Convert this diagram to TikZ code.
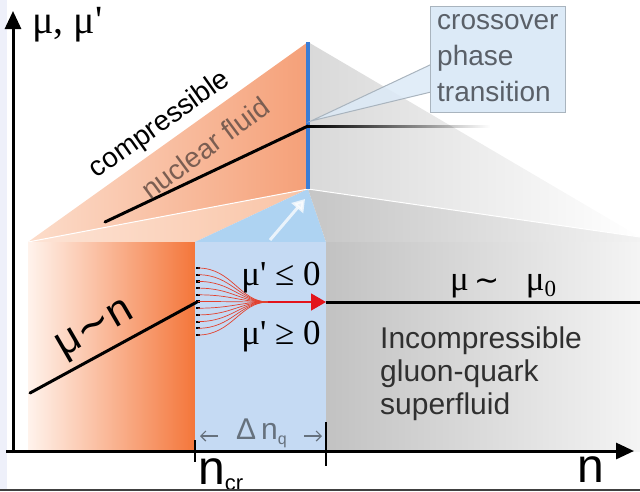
\documentclass[tikz,border=0pt]{standalone}
\usepackage{fontspec}
\setmainfont{Liberation Serif}
\setsansfont{Liberation Sans}
\newfontfamily\djv{DejaVu Sans}
\usetikzlibrary{arrows.meta,fadings}
\definecolor{orUL}{HTML}{FCDDCB}
\definecolor{orUR}{HTML}{F5A078}
\definecolor{peachL}{HTML}{FDE4D6}
\definecolor{peachR}{HTML}{F9C4A6}
\definecolor{orL}{HTML}{FFF3EC}
\definecolor{orM}{HTML}{FBC19F}
\definecolor{orR}{HTML}{F4763A}
\definecolor{bluetop}{HTML}{AED3F2}
\definecolor{blueblk}{HTML}{C5DAF3}
\definecolor{blueline}{HTML}{3A7DD6}
\definecolor{grU}{HTML}{D9D9D9}
\definecolor{grT}{HTML}{C6C6C6}
\definecolor{grT2}{HTML}{F2F2F2}
\definecolor{grL}{HTML}{C2C2C2}
\definecolor{grR}{HTML}{F4F4F4}
\definecolor{calfill}{HTML}{DCEAF7}
\definecolor{caledge}{HTML}{A9B4BE}
\definecolor{caltext}{HTML}{5A6068}
\definecolor{nuc}{HTML}{7B5E52}
\definecolor{fanred}{HTML}{E2412E}
\definecolor{arrred}{HTML}{E3141B}
\definecolor{dngray}{HTML}{66717D}
\definecolor{txtdark}{HTML}{303030}
\definecolor{leftstrip}{HTML}{EEF0FA}
\definecolor{border}{HTML}{404040}
\tikzset{
  axisline/.style={line width=3pt, -{Triangle[length=18pt,width=16pt]}},
  blackline/.style={line width=3pt, line cap=round},
  sanslbl/.style={font=\sffamily\fontsize{28}{28}\selectfont},
  incolbl/.style={font=\sffamily\fontsize{30}{30}\selectfont, text=txtdark, anchor=base west, inner sep=0pt},
  seriflbl/.style={font=\fontsize{35}{35}\selectfont},
  fanline/.style={fanred, line width=0.7pt},
  dimarrow/.style={dngray, line width=1.2pt, -{Straight Barb[length=5pt,width=10pt]}},
  tickline/.style={line width=2.5pt}
}
\begin{document}
\begin{tikzpicture}[x=1pt,y=-1pt]
\useasboundingbox (0,0) rectangle (640,491);
\fill[leftstrip] (0,0) rectangle (7,491);
% key points
\coordinate (A) at (28,242);
\coordinate (B) at (195,242);
\coordinate (C) at (326,242);
\coordinate (D) at (640,242);
\coordinate (P) at (308,189);
\coordinate (T) at (308,42);
\coordinate (G) at (640,237);
% upper perspective
\shade[left color=orUL, right color=orUR] (A) -- (T) -- (P) -- cycle;
\shade[left color=peachL, right color=peachR] (A) -- (P) -- (B) -- cycle;
\fill[bluetop] (B) -- (P) -- (C) -- cycle;
\shade[left color=grU, right color=white] (T) -- (G) -- (P) -- cycle;
\shade[left color=grT, right color=grT2] (P) -- (G) -- (D) -- (C) -- cycle;
\draw[white, line width=1pt] (A) -- (P) -- (G);
% blocks
\shade[left color=orL, middle color=orM, right color=orR] (28,242) rectangle (195,451);
\fill[blueblk] (195,242) rectangle (326,451);
\shade[left color=grL, right color=grR] (326,242) rectangle (640,451);
% blue transition line
\draw[blueline, line width=3.5pt] (T) -- (P);
% white arrow in blue face
\coordinate (wa1) at (270,240);
\coordinate (wa2) at (305,199);
\draw[white, opacity=0.75, line width=3pt, -{Triangle[length=12pt,width=15pt]}] (wa1) -- (wa2);
% upper black line
\coordinate (u1) at (105,222);
\coordinate (u2) at (308,126);
\draw[blackline] (u1) -- (u2);
\path[fill=black, path fading=east] (308,124.5) rectangle (490,127.5);
% callout
\coordinate (ctip) at (311,121);
\coordinate (cw1) at (432,64);
\coordinate (cw2) at (431,92);
\fill[calfill, opacity=0.85] (cw1) -- (ctip) -- (cw2) -- cycle;
\draw[caledge, line width=1pt] (cw1) -- (ctip) -- (cw2);
\node[draw=caledge, fill=calfill, line width=1pt, minimum width=135pt, minimum height=106pt, anchor=north west, inner sep=0pt] (cobox) at (430,6) {};
\node[sanslbl, text=caltext, anchor=base west, inner sep=0pt] (co1) at (437,29) {crossover};
\node[sanslbl, text=caltext, anchor=base west, inner sep=0pt] (co2) at (437,65) {phase};
\node[sanslbl, text=caltext, anchor=base west, inner sep=0pt] (co3) at (437,101) {transition};
% upper texts
\node[sanslbl, rotate=35.3, inner sep=0pt] (comp) at (160,125) {compressible};
\node[sanslbl, text=nuc, rotate=36.5, inner sep=0pt] (nucl) at (205,148) {nuclear fluid};
% lower lines
\coordinate (l1) at (30,393);
\coordinate (l2) at (197,302);
\draw[blackline] (l1) -- (l2);
\coordinate (F) at (268,302);
\coordinate (R) at (326,302);
\coordinate (rr) at (640,302);
\draw[line width=3pt] (R) -- (rr);
\foreach \i in {0,...,10} {
  \pgfmathsetmacro{\yy}{268+\i*6.7}
  \coordinate (d\i) at (198,\yy);
  \fill (196.3,\yy-1.1) rectangle (199.7,\yy+1.1);
  \draw[fanline] (d\i) .. controls (232,\yy) and (240,302) .. (F);
}
\draw[arrred, line width=1.5pt, -{Triangle[length=15pt,width=17pt]}] (F) -- (R);
% lower texts
\node[font=\sffamily\fontsize{42}{42}\selectfont, rotate=30, inner sep=0pt] (mun) at (96,331) {μ{\djv ∼}n};
\node[seriflbl, anchor=base, inner sep=0pt] (mle) at (281,285) {μ\textquotesingle\ ≤ 0};
\node[seriflbl, anchor=base, inner sep=0pt] (mge) at (281,344) {μ\textquotesingle\ ≥ 0};
\node[seriflbl, anchor=base west, inner sep=0pt] (mu0) at (450,290) {μ\,{\djv\fontsize{30}{30}\selectfont ∼}\hspace{26pt}μ\raisebox{-6pt}{\fontsize{23}{23}\selectfont 0}};
\node[incolbl] (in1) at (380,348) {Incompressible};
\node[incolbl] (in2) at (380,381) {gluon-quark};
\node[incolbl] (in3) at (380,414) {superfluid};
% delta n_q
\node[font=\sffamily\fontsize{30}{30}\selectfont, text=dngray, anchor=base west, inner sep=0pt] (dnq) at (236,439) {Δ\,n\raisebox{-5pt}{\fontsize{16}{16}\selectfont q}};
\coordinate (da1) at (218,436);
\coordinate (da2) at (200,436);
\coordinate (db1) at (304,436);
\coordinate (db2) at (322,436);
\draw[dimarrow] (da1) -- (da2);
\draw[dimarrow] (db1) -- (db2);
% axes
\coordinate (o1) at (6,451);
\coordinate (xe) at (634,451);
\coordinate (o2) at (13,453);
\coordinate (ye) at (13,11);
\draw[axisline] (o1) -- (xe);
\draw[axisline] (o2) -- (ye);
% ticks
\coordinate (t1a) at (195,440);
\coordinate (t1b) at (195,462);
\coordinate (t2a) at (326,422);
\coordinate (t2b) at (326,466);
\draw[tickline] (t1a) -- (t1b);
\draw[tickline] (t2a) -- (t2b);
% axis labels
\node[font=\fontsize{40}{40}\selectfont, anchor=base west, inner sep=0pt] (ylab) at (32,33) {μ, μ\textquotesingle};
\node[font=\sffamily\fontsize{48}{48}\selectfont, anchor=base west, inner sep=0pt] (xlab) at (577,482) {n};
\node[font=\sffamily\fontsize{48}{48}\selectfont, anchor=base west, inner sep=0pt] (ncr) at (198,484) {n\raisebox{-6pt}{\fontsize{22}{22}\selectfont cr}};
% bottom border
\coordinate (b1) at (0,490);
\coordinate (b2) at (640,490);
\draw[border, line width=2pt] (b1) -- (b2);
\end{tikzpicture}
\end{document}
